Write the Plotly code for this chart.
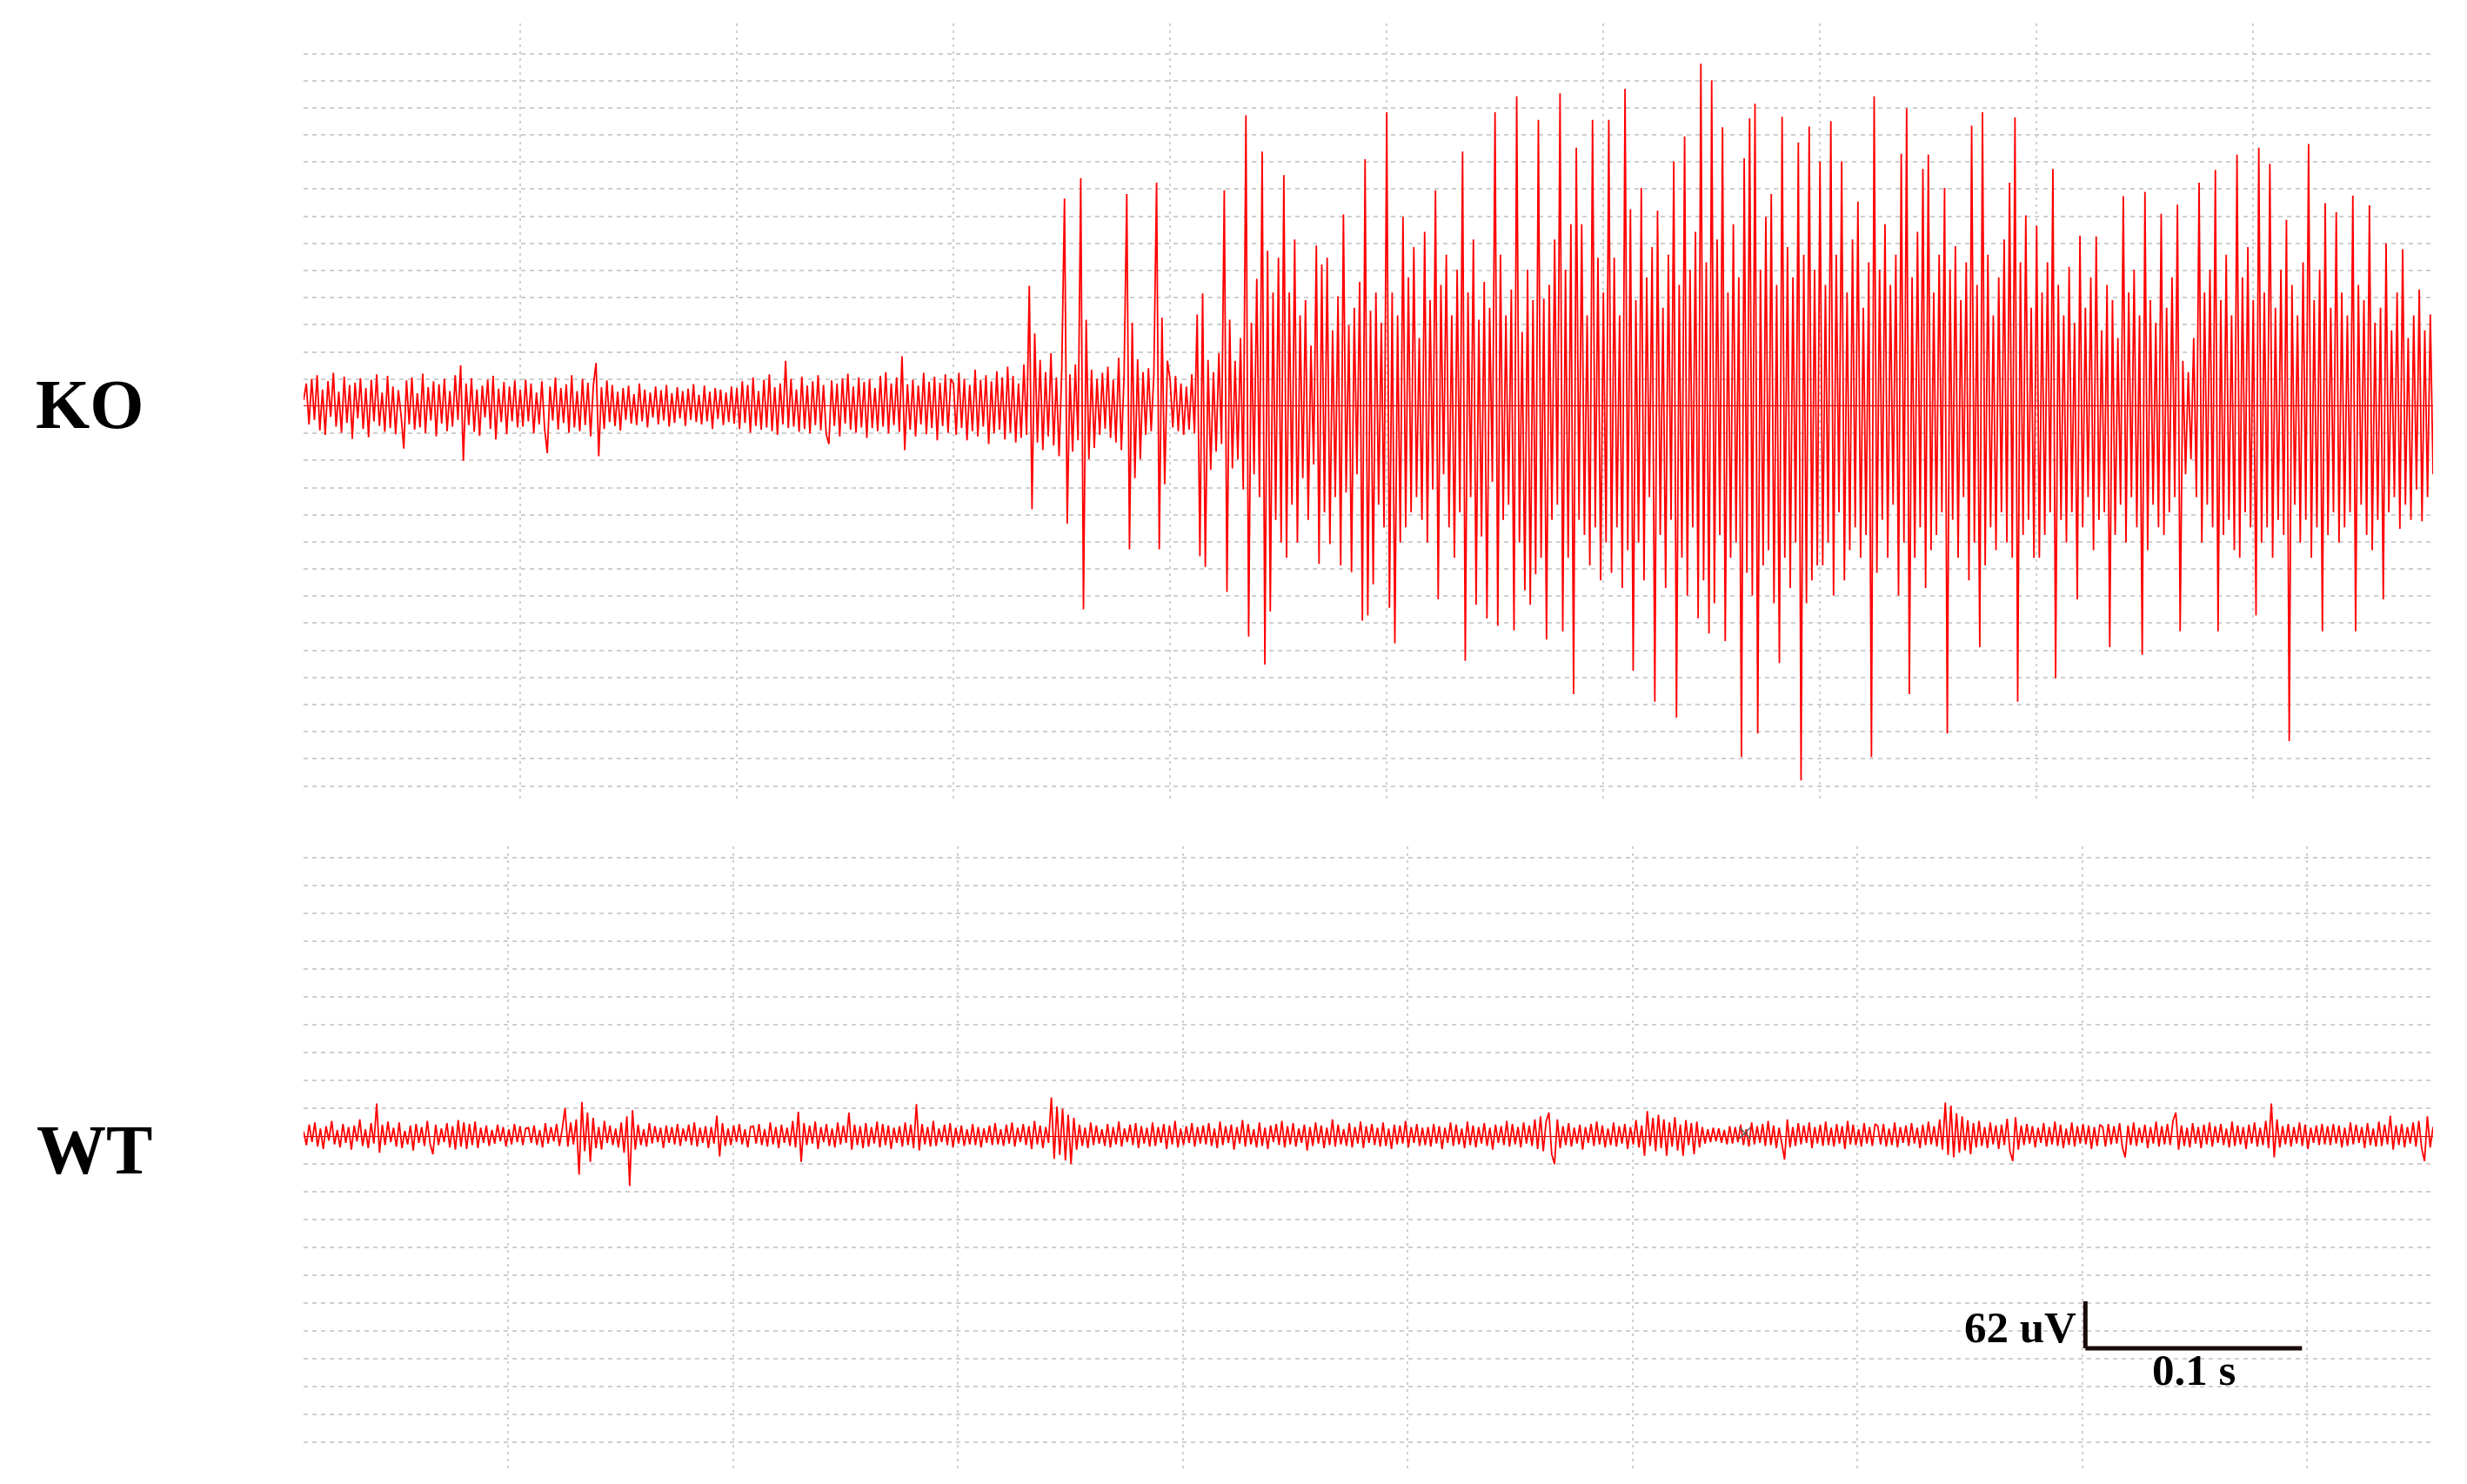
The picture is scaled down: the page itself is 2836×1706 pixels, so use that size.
import numpy as np
import plotly.graph_objects as go

# KO trace, uV, one list per 0.1 s of recording (last one is 0.083 s)
ko_0 = [8, 30, -24, 36, -18, 41, -32, 22, -38, 33, -14, 44, -27, 19, -35, 39, -22, 28, -43, 31,
        -16, 37, -30, 24, -41, 35, -20, 42, -26, 18, -34, 40, -29, 26, -37, 21, -12, -56, 34, -24,
        38, -31, 17, -28, 43, -36, 25, -19, 33, -40, 29, -23, 36, -33, 20, -27, 41, -18, 54, -72,
        30, -25, 37, -34, 22, -39, 27, -15, 35, -30, 40, -44, 23, -21, 32, -37, 26, -20, 34, -28]
ko_1 = [22, -27, 35, -20, 30, -36, 18, -24, 33, -29, -62, 26, -19, 38, -31, 24, -22, 29, -35, 41,
        -28, 20, -33, 36, -25, 31, -40, 27, 57, -66, 25, -30, 34, -21, 28, -26, 19, -32, 24, -18,
        27, -23, 16, -25, 30, -20, 22, -28, 18, -15, 26, -24, 21, -19, 28, -27, 17, -22, 25, -16,
        20, -26, 23, -18, 29, -21, 15, -24, 27, -20, 19, -30, 24, -17, 22, -25, 18, -21, 26, -23]
ko_2 = [24, -30, 33, -22, 28, -35, 38, -26, 20, -31, 35, -28, 42, -33, 25, -38, 30, -24, 60, -29,
        36, -27, 22, -34, 39, -30, 27, -36, 33, -25, 41, -32, 28, -37, -50, 34, -26, 30, -40, 37,
        -23, 43, -31, 26, -35, 38, -28, 32, -42, 36, -29, 24, -33, 40, -27, 45, -36, 30, -25, 38,
        -34, 66, -58, 29, -31, 35, -40, 27, -24, 44, -37, 32, -29, 39, -45, 31, -26, 42, -35, 36]
ko_3 = [30, -38, 44, -29, 36, -45, 28, -33, 48, -40, 35, -27, 41, -50, 33, -36, 46, -31, 38, -44,
        52, -35, 40, -48, 30, -42, 55, -38, 159, -136, 96, -48, 61, -58, 45, -40, 70, -52, 38, -66,
        50, 274, -155, 42, -60, 55, -45, 301, -268, 114, -70, 48, -55, 36, -38, 44, -30, 52, -42, 35,
        -48, 64, -58, 40, 280, -189, 110, -95, 62, -70, 45, -38, 50, -33, 42, 295, -189, 117, -103, 60]
ko_4 = [35, -28, 40, -33, 30, -38, 26, -31, 42, -36, 121, -198, 149, -212, 61, -84, 45, -60, 70, -50,
        285, -245, 114, -82, 60, -70, 90, -110, 384, -304, 110, -90, 168, -120, 336, -341, 205, -271, 150, -150,
        196, -180, 305, -200, 150, -130, 220, -180, 120, -95, 140, -150, 80, -77, 212, -208, 187, -140, 196, -182,
        100, -120, 145, -210, 253, -114, 107, -219, 130, -90, 164, -283, 326, -276, 126, -235, 150, -130, 110, -160]
ko_5 = [388, -266, 150, -313, 120, -180, 250, -160, 170, -140, 210, -120, 90, -150, 230, -180, 140, -110, 285, -255,
        160, -90, 200, -160, 120, -200, 180, -140, 336, -336, 150, -120, 220, -262, 114, -172, 164, -280, 130, -100,
        388, -290, 200, -150, 120, -130, 154, -296, 409, -180, 98, -243, 180, -262, 140, -222, 378, -200, 142, -308,
        160, -150, 220, -130, 413, -297, 180, -200, 240, -380, 341, -150, 240, -170, 120, -210, 378, -160, 196, -230]
ko_6 = [150, -180, 378, -220, 196, -160, 120, -240, 419, -190, 260, -349, 140, -180, 288, -230, 170, -120, 210, -390,
        258, -170, 130, -240, 200, -150, 323, -411, 160, -200, 356, -250, 180, -160, 230, -280, 452, -230, 190, -300,
        430, -260, 220, -170, 368, -310, 150, -200, 240, -180, 170, -463, 327, -220, 380, -250, 399, -432, 180, -210,
        250, -190, 280, -260, 160, -339, 382, -200, 210, -240, 170, -180, 348, -494, 200, -260, 369, -230, 180, -210]
ko_7 = [323, -210, 160, -180, 376, -250, 200, -140, 323, -230, 150, -190, 220, -160, 270, -200, 130, -170, 190, -463,
        409, -220, 180, -150, 240, -200, 160, -130, 200, -250, 333, -180, 393, -380, 170, -200, 230, -160, 313, -240,
        332, -190, 150, -170, 200, -140, 288, -432, 180, -150, 211, -200, 140, -120, 190, -230, 370, -180, 160, -318,
        388, -210, 200, -160, 120, -190, 170, -140, 220, -180, 295, -200, 381, -390, 190, -170, 252, -150, 130, -200]
ko_8 = [238, -200, 150, -170, 190, -140, 313, -359, 160, -150, 120, -180, 184, -140, 110, -255, 225, -160, 130, -120,
        170, -190, 224, -150, 100, -140, 160, -318, 140, -170, 90, -130, 277, -180, 150, -120, 180, -160, 120, -328,
        283, -190, 140, -130, 110, -160, 254, -170, 130, -140, 170, -120, 266, -297, 60, -90, 45, -70, 90, -120,
        295, -180, 150, -130, 180, -160, 312, -297, 140, -170, 200, -150, 120, -190, 332, -200, 170, -140, 210, -160]
ko_9 = [140, -276, 341, -180, 150, -160, 320, -200, 130, -150, 180, -170, 246, -442, 160, -130, 120, -180, 190, -150,
        346, -200, 140, -160, 180, -297, 268, -170, 130, -140, 256, -180, 150, -160, 120, -140, 278, -297, 160, -130,
        140, -170, 265, -190, 110, -150, 130, -255, 215, -140, 100, -120, 150, -162, 207, -130, 90, -150, 120, -110,
        154, -152, 100, -120, 121, -90]

# WT trace, uV, one list per 0.1 s
wt_0 = [6, -12, 15, -8, 18, -14, 10, -17, 13, -6, 20, -11, 8, -15, 16, -9, 12, -18, 14, -7,
        22, -13, 9, -16, 17, -10, 43, -22, 15, -12, 19, -8, 11, -14, 18, -16, 7, -11, 14, -19,
        16, -9, 12, -13, 20, -10, -24, 15, -12, 10, -8, 17, -15, 13, -18, 21, -14, 18, -17, 16,
        -12, 19, -16, 11, -9, 14, -13, 8, -10, 15, -7, 12, -14, 9, -11, 16, -8, 13, -12, 10]
wt_1 = [11, -9, 14, -12, 8, -15, 17, -10, 12, -7, 16, -13, 9, 37, -14, 18, -11, 22, -51, 45,
        -20, 31, -34, 24, -16, 12, -18, 20, -9, 14, -12, 10, -15, 18, -22, 26, -66, 34, -18, 15,
        -12, 9, -14, 17, -10, 13, -8, 11, -16, 14, -9, 12, -11, 16, -13, 10, -7, 15, -12, 18,
        -14, 11, -9, 13, -16, 12, -10, 27, -27, 17, -13, 10, -12, 14, -8, 16, -11, 9, -15, 12]
wt_2 = [13, -10, 16, -12, 9, -14, 18, -11, 12, -16, 15, -9, 11, -13, 20, -15, 32, -34, 17, -12,
        14, -10, 19, -17, 12, -8, 16, -13, 10, -15, 18, -11, 14, -9, 31, -18, 15, -12, 13, -16,
        17, -14, 12, -10, 19, -15, 16, -12, 14, -17, 11, -9, 13, -14, 18, -12, 15, -16, 42, -19,
        16, -11, 12, -14, 20, -13, 10, -8, 15, -12, 17, -15, 11, -10, 14, -13, 9, -11, 16, -12]
wt_3 = [12, -15, 10, -9, 14, -12, 17, -11, 9, -13, 15, -10, 18, -14, 11, -8, 16, -12, 13, -17,
        20, -11, 14, -16, 12, -9, 51, -30, 39, -25, 36, -32, 28, -37, 24, -18, 15, -13, 11, -16,
        18, -12, 14, -10, 9, -13, 16, -15, 12, -11, 19, -14, 10, -8, 15, -12, 17, -16, 13, -10,
        11, -14, 18, -13, 12, -9, 16, -17, 14, -11, 20, -15, 10, -12, 13, -9, 17, -14, 12, -10]
wt_4 = [14, -11, 17, -13, 10, -16, 19, -12, 13, -9, 15, -18, 12, -10, 21, -14, 16, -11, 9, -15,
        18, -13, 11, -17, 14, -8, 16, -12, 20, -15, 13, -11, 17, -14, 10, -9, 15, -19, 12, -13,
        18, -10, 14, -16, 11, -12, 22, -14, 15, -11, 9, -13, 17, -15, 12, -10, 19, -16, 13, -9,
        16, -12, 11, -14, 18, -13, 10, -17, 15, -11, 14, -10, 20, -15, 12, -9, 16, -13, 11, -12]
wt_5 = [12, -14, 16, -10, 13, -17, 11, -9, 18, -13, 15, -11, 10, -16, 19, -12, 14, -15, 12, -10,
        17, -13, 11, -18, 15, -9, 13, -12, 20, -14, 16, -11, 12, -15, 18, -10, 14, -13, 22, -17,
        26, -20, 19, 31, -24, -37, 22, -16, 13, -12, 17, -14, 11, -10, 15, -18, 12, -9, 16, -13,
        19, -11, 14, -15, 10, -12, 18, -14, 13, -10, 16, -17, 12, -11, 21, -15, 14, -26, 33, -13]
wt_6 = [24, -20, 28, -16, 22, -26, 18, -14, 25, -19, 15, -26, 21, -12, 17, -24, 19, -15, 12, -10,
        9, -8, 11, -7, 10, -9, 8, -11, 13, -10, 12, -8, 15, -12, 9, -14, 18, -11, 13, -9, 16, -13,
        20, -12, 14, -16, 11, -10, -31, 22, -15, 12, -13, 17, -11, 14, -9, 18, -16, 12, -10, 15,
        -13, 19, -12, 11, -14, 16, -10, 13, -17, 20, -11, 15, -12, 9, -14, 17, -10, 12, -13, 16]
wt_7 = [13, -11, 16, -14, 10, -12, 18, -15, 12, -9, 14, -13, 17, -10, 11, -16, 15, -12, 19, -11,
        13, -14, 22, -18, 44, -25, 40, -28, 30, -22, 26, -19, 21, -24, 17, -15, 20, -13, 12, -16,
        18, -11, 14, -17, 15, -12, 23, -20, -33, 25, -18, 14, -12, 16, -10, 13, -15, 11, -9, 17,
        -14, 12, -11, 19, -13, 15, -16, 10, -12, 18, -14, 13, -10, 16, -11, 14, -17, 12, -13, 15]
wt_8 = [12, -14, 16, -11, 13, -10, 17, -15, -28, 14, -12, 18, -13, 11, -9, 15, -16, 12, -10, 19,
        -14, 13, -11, 16, -12, 20, 31, -18, 14, -13, 11, -15, 17, -10, 12, -16, 15, -11, 18, -14,
        13, -9, 16, -12, 10, -15, 19, -13, 14, -11, 12, -17, 15, -10, 18, -14, 11, -12, 20, -16,
        43, -28, 22, -15, 13, -11, 16, -14, 12, -10, 18, -13, 15, -17, 11, -9, 14, -12, 16, -11]
wt_9 = [13, -12, 16, -10, 14, -15, 11, -13, 18, -11, 15, -9, 12, -16, 17, -12, 10, -14, 19, -13,
        15, -11, 27, -18, 14, -12, 16, -15, 12, -10, 18, -14, 20, -16, -33, 26, -15, 12]

ko_segments = [ko_0, ko_1, ko_2, ko_3, ko_4, ko_5, ko_6, ko_7, ko_8, ko_9]
wt_segments = [wt_0, wt_1, wt_2, wt_3, wt_4, wt_5, wt_6, wt_7, wt_8, wt_9]
ko_start, ko_end = 0.0, 0.983
wt_start, wt_end = 0.0091, 0.956

wt_mark_t, wt_mark_uv = 0.650, 4  # the little x on the WT trace

scale_uv = 62
scale_s = 0.1
labels = ["KO", "WT"]

RED = "#ff0000"
GRID = "#cfcfcf"
FONT = "Liberation Serif"


def build(segments, start, end):
    t, v = [], []
    for i, seg in enumerate(segments):
        s0 = start + i * 0.1
        last = i == len(segments) - 1
        s1 = end if last else s0 + 0.1
        t.extend(np.linspace(s0, s1, len(seg), endpoint=last))
        v.extend(seg)
    return t, v


ko_t, ko_v = build(ko_segments, ko_start, ko_end)
wt_t, wt_v = build(wt_segments, wt_start, wt_end)

fig = go.Figure()
fig.add_trace(go.Scatter(x=ko_t, y=ko_v, mode="lines", line=dict(color=RED, width=1.8),
                         xaxis="x", yaxis="y"))
fig.add_trace(go.Scatter(x=wt_t, y=wt_v, mode="lines", line=dict(color=RED, width=1.8),
                         xaxis="x2", yaxis="y2"))
fig.add_trace(go.Scatter(x=[wt_mark_t], y=[wt_mark_uv], mode="markers",
                         marker=dict(symbol="x-thin", size=13, line=dict(color="#606060", width=1.5)),
                         xaxis="x2", yaxis="y2"))

# the page puts the figure 8px in from the top-left corner
OFF = 8
W, H = 2836 - OFF, 1706 - OFF


def px_x(p):
    return (p - OFF) / W


def px_y(p):
    return 1 - (p - OFF) / H


x_dom = [px_x(349), px_x(2797)]
ko_step = 35.8   # uV between KO horizontal grid lines
wt_step = 36.7

xgrid = dict(showgrid=True, gridcolor=GRID, gridwidth=2, griddash="3px,5px",
             showticklabels=False, zeroline=False, showline=False, ticks="")
ygrid = dict(showgrid=True, gridcolor=GRID, gridwidth=2, griddash="5px,5px",
             showticklabels=False, zeroline=True, zerolinecolor="#d40000", zerolinewidth=1,
             showline=False, ticks="")

fig.update_layout(
    width=W, height=H, margin=dict(l=0, r=0, t=0, b=0),
    paper_bgcolor="white", plot_bgcolor="white", showlegend=False,
    xaxis=dict(domain=x_dom, range=[ko_start, ko_end], anchor="y",
               tickvals=[round(0.1 * k, 1) for k in range(1, 10)], **xgrid),
    yaxis=dict(domain=[px_y(923), px_y(27)], range=[-523.5, 505], anchor="x",
               tickvals=[k * ko_step for k in range(-14, 14)], **ygrid),
    xaxis2=dict(domain=x_dom, range=[wt_start, wt_end], anchor="y2",
                tickvals=[round(0.1 * k, 1) for k in range(1, 10)], **xgrid),
    yaxis2=dict(domain=[px_y(1689), px_y(973)], range=[-439.7, 382.3], anchor="x2",
                tickvals=[k * wt_step for k in range(-11, 11)], **ygrid),
)

# scale bar: time from the KO axis, voltage from the WT axis
bar_t, bar_v = 0.8225, -280
bar = dict(color="#1a0a0a", width=5)
fig.add_shape(type="line", xref="x", yref="y2", x0=bar_t, x1=bar_t,
              y0=bar_v, y1=bar_v + scale_uv, line=bar)
fig.add_shape(type="line", xref="x", yref="y2", x0=bar_t, x1=bar_t + scale_s,
              y0=bar_v, y1=bar_v, line=bar)
fig.add_annotation(x=bar_t, y=bar_v + scale_uv / 2, xref="x", yref="y2",
                   text=f"<b>{scale_uv} uV</b>", showarrow=False, xanchor="right", yanchor="middle",
                   xshift=-8, yshift=-3, font=dict(family=FONT, size=51, color="black"))
fig.add_annotation(x=bar_t + scale_s / 2, y=bar_v, xref="x", yref="y2",
                   text=f"<b>{scale_s} s</b>", showarrow=False, xanchor="center", yanchor="top",
                   yshift=5, font=dict(family=FONT, size=51, color="black"))

for lab, xc, yc in zip(labels, [103, 108], [465, 1322]):
    fig.add_annotation(x=px_x(xc), y=px_y(yc), xref="paper", yref="paper",
                       text=f"<b>{lab}</b>", showarrow=False, xanchor="center", yanchor="middle",
                       font=dict(family=FONT, size=80, color="black"))

fig.write_html("out.html")
